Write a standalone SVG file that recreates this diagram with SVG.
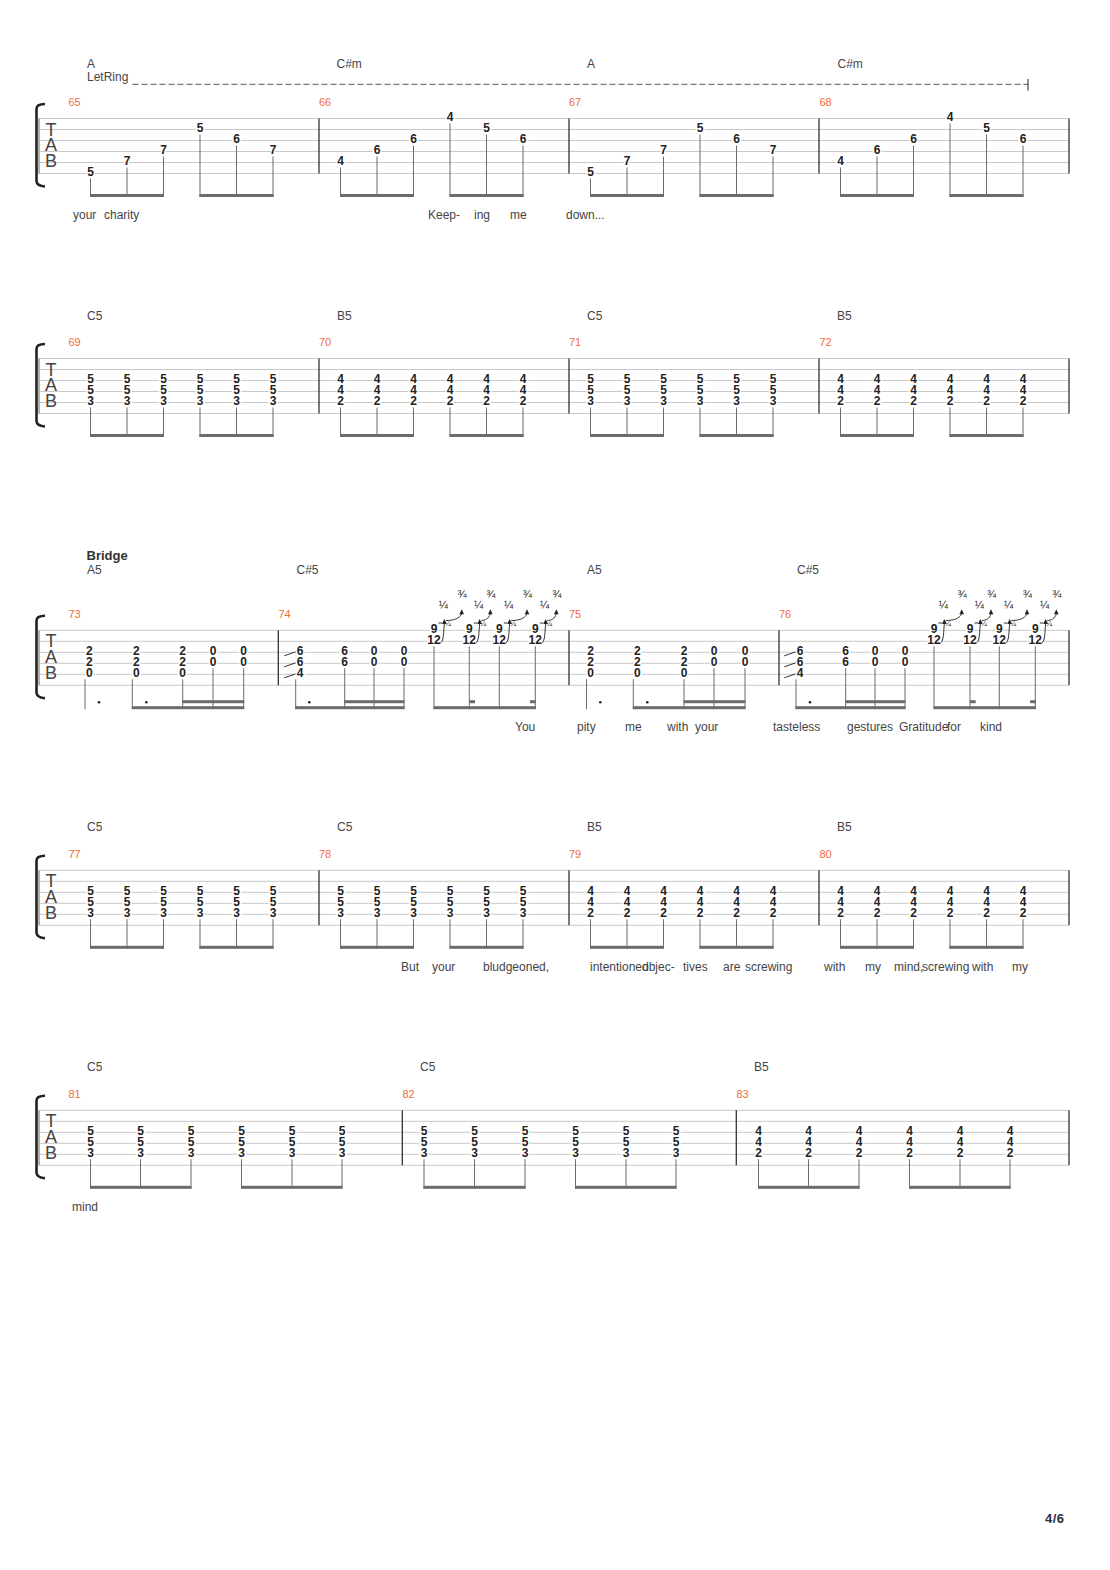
<svg xmlns="http://www.w3.org/2000/svg" width="1110" height="1570" viewBox="0 0 1110 1570">
<style>
text{font-family:"Liberation Sans",Arial,sans-serif}
.sl{stroke:#c8c8c8;stroke-width:1;fill:none}
.bl{stroke:#333;stroke-width:1.3;fill:none}
.lf{stroke:#666;stroke-width:1;fill:none}
.br{stroke:#222;stroke-width:2.6;fill:none}
.tab{font-size:18px;fill:#444;text-anchor:middle}
.n text,.n{font-size:12px;font-weight:bold;fill:#222;text-anchor:middle;stroke:#fff;stroke-width:3;paint-order:stroke;stroke-linejoin:round}
.st{stroke:#6b6b6b;stroke-width:1;fill:none}
.bm{fill:#6b6b6b}
.mn{font-size:11px;fill:#f26b3a}
.ch{font-size:12px;fill:#444}
.ly{font-size:12px;fill:#444}
.bd{stroke:#333;stroke-width:1;fill:none}
.tri{fill:#222}
.fr{font-size:11px;fill:#222;text-anchor:middle}
.fs{font-size:8px;fill:#222;text-anchor:middle}
.dot{fill:#222}
</style>

<!-- ROW 1 : measures 65-68 -->
<g id="row1">
  <g id="row1-staff">
    <path class="sl" d="M39,118.5H1069M39,129.5H1069M39,140.5H1069M39,151.5H1069M39,162.5H1069M39,173.5H1069"/>
    <path class="lf" d="M39,118.5V173.5"/>
    <path class="bl" d="M319,118.5V173.5M569,118.5V173.5M819,118.5V173.5M1069,118.5V173.5"/>
    <path class="br" d="M45,104 C40,104 36.5,105.5 36.5,109 V181 C36.5,184 40,186 45,186.5"/>
    <text class="tab" x="51" y="135.5">T</text><text class="tab" x="51" y="151">A</text><text class="tab" x="51" y="167">B</text>
  </g>
  <g id="row1-labels">
    <text class="ch" x="87" y="68">A</text>
    <text class="ch" x="87" y="80.5">LetRing</text>
    <path d="M132.5,84.3H1028" stroke="#777" stroke-width="1.3" stroke-dasharray="6,3" fill="none"/>
    <path d="M1028,79V90.5" stroke="#444" stroke-width="1.2"/>
    <text class="ch" x="336.5" y="68">C#m</text>
    <text class="ch" x="587" y="68">A</text>
    <text class="ch" x="837.5" y="68">C#m</text>
    <text class="mn" x="68.5" y="106">65</text>
    <text class="mn" x="319" y="106">66</text>
    <text class="mn" x="569" y="106">67</text>
    <text class="mn" x="819.5" y="106">68</text>
  </g>
  <g id="m65" class="n">
    <text x="90.5" y="176.3">5</text><text x="127" y="165.3">7</text><text x="163.5" y="154.3">7</text>
    <text x="200" y="132.3">5</text><text x="236.5" y="143.3">6</text><text x="273" y="154.3">7</text>
  </g>
  <g id="m66" class="n">
    <text x="340.5" y="165.3">4</text><text x="377" y="154.3">6</text><text x="413.5" y="143.3">6</text>
    <text x="450" y="121.3">4</text><text x="486.5" y="132.3">5</text><text x="523" y="143.3">6</text>
  </g>
  <g id="m67" class="n">
    <text x="590.5" y="176.3">5</text><text x="627" y="165.3">7</text><text x="663.5" y="154.3">7</text>
    <text x="700" y="132.3">5</text><text x="736.5" y="143.3">6</text><text x="773" y="154.3">7</text>
  </g>
  <g id="m68" class="n">
    <text x="840.5" y="165.3">4</text><text x="877" y="154.3">6</text><text x="913.5" y="143.3">6</text>
    <text x="950" y="121.3">4</text><text x="986.5" y="132.3">5</text><text x="1023" y="143.3">6</text>
  </g>
  <g id="row1-rhythm">
    <path class="st" d="M90.5,178.5V197M127,167.5V197M163.5,156.5V197M200,134.5V197M236.5,145.5V197M273,156.5V197"/>
    <path class="st" d="M340.5,167.5V197M377,156.5V197M413.5,145.5V197M450,123.5V197M486.5,134.5V197M523,145.5V197"/>
    <path class="st" d="M590.5,178.5V197M627,167.5V197M663.5,156.5V197M700,134.5V197M736.5,145.5V197M773,156.5V197"/>
    <path class="st" d="M840.5,167.5V197M877,156.5V197M913.5,145.5V197M950,123.5V197M986.5,134.5V197M1023,145.5V197"/>
    <rect class="bm" x="90" y="194" width="74" height="3"/><rect class="bm" x="199.5" y="194" width="74" height="3"/>
    <rect class="bm" x="340" y="194" width="74" height="3"/><rect class="bm" x="449.5" y="194" width="74" height="3"/>
    <rect class="bm" x="590" y="194" width="74" height="3"/><rect class="bm" x="699.5" y="194" width="74" height="3"/>
    <rect class="bm" x="840" y="194" width="74" height="3"/><rect class="bm" x="949.5" y="194" width="74" height="3"/>
  </g>
  <g id="row1-lyrics" class="ly">
    <text x="73" y="219">your</text><text x="104" y="219">charity</text>
    <text x="428" y="219">Keep-</text><text x="474" y="219">ing</text><text x="510" y="219">me</text>
    <text x="566" y="219">down...</text>
  </g>
</g>

<!-- ROW 2 : measures 69-72 -->
<g id="row2">
  <g id="row2-staff">
    <path class="sl" d="M39,358.5H1069M39,369.5H1069M39,380.5H1069M39,391.5H1069M39,402.5H1069M39,413.5H1069"/>
    <path class="lf" d="M39,358.5V413.5"/>
    <path class="bl" d="M319,358.5V413.5M569,358.5V413.5M819,358.5V413.5M1069,358.5V413.5"/>
    <path class="br" d="M45,344 C40,344 36.5,345.5 36.5,349 V421 C36.5,424 40,426 45,426.5"/>
    <text class="tab" x="51" y="375.5">T</text><text class="tab" x="51" y="391">A</text><text class="tab" x="51" y="407">B</text>
  </g>
  <g id="row2-labels">
    <text class="ch" x="87" y="319.5">C5</text>
    <text class="ch" x="337" y="319.5">B5</text>
    <text class="ch" x="587" y="319.5">C5</text>
    <text class="ch" x="837" y="319.5">B5</text>
    <text class="mn" x="68.5" y="346">69</text>
    <text class="mn" x="319" y="346">70</text>
    <text class="mn" x="569" y="346">71</text>
    <text class="mn" x="819.5" y="346">72</text>
  </g>
  <g id="m69" class="n">
    <text x="90.5" y="383.3">5</text><text x="90.5" y="394.3">5</text><text x="90.5" y="405.3">3</text>
    <text x="127" y="383.3">5</text><text x="127" y="394.3">5</text><text x="127" y="405.3">3</text>
    <text x="163.5" y="383.3">5</text><text x="163.5" y="394.3">5</text><text x="163.5" y="405.3">3</text>
    <text x="200" y="383.3">5</text><text x="200" y="394.3">5</text><text x="200" y="405.3">3</text>
    <text x="236.5" y="383.3">5</text><text x="236.5" y="394.3">5</text><text x="236.5" y="405.3">3</text>
    <text x="273" y="383.3">5</text><text x="273" y="394.3">5</text><text x="273" y="405.3">3</text>
  </g>
  <g id="m70" class="n">
    <text x="340.5" y="383.3">4</text><text x="340.5" y="394.3">4</text><text x="340.5" y="405.3">2</text>
    <text x="377" y="383.3">4</text><text x="377" y="394.3">4</text><text x="377" y="405.3">2</text>
    <text x="413.5" y="383.3">4</text><text x="413.5" y="394.3">4</text><text x="413.5" y="405.3">2</text>
    <text x="450" y="383.3">4</text><text x="450" y="394.3">4</text><text x="450" y="405.3">2</text>
    <text x="486.5" y="383.3">4</text><text x="486.5" y="394.3">4</text><text x="486.5" y="405.3">2</text>
    <text x="523" y="383.3">4</text><text x="523" y="394.3">4</text><text x="523" y="405.3">2</text>
  </g>
  <g id="m71" class="n">
    <text x="590.5" y="383.3">5</text><text x="590.5" y="394.3">5</text><text x="590.5" y="405.3">3</text>
    <text x="627" y="383.3">5</text><text x="627" y="394.3">5</text><text x="627" y="405.3">3</text>
    <text x="663.5" y="383.3">5</text><text x="663.5" y="394.3">5</text><text x="663.5" y="405.3">3</text>
    <text x="700" y="383.3">5</text><text x="700" y="394.3">5</text><text x="700" y="405.3">3</text>
    <text x="736.5" y="383.3">5</text><text x="736.5" y="394.3">5</text><text x="736.5" y="405.3">3</text>
    <text x="773" y="383.3">5</text><text x="773" y="394.3">5</text><text x="773" y="405.3">3</text>
  </g>
  <g id="m72" class="n">
    <text x="840.5" y="383.3">4</text><text x="840.5" y="394.3">4</text><text x="840.5" y="405.3">2</text>
    <text x="877" y="383.3">4</text><text x="877" y="394.3">4</text><text x="877" y="405.3">2</text>
    <text x="913.5" y="383.3">4</text><text x="913.5" y="394.3">4</text><text x="913.5" y="405.3">2</text>
    <text x="950" y="383.3">4</text><text x="950" y="394.3">4</text><text x="950" y="405.3">2</text>
    <text x="986.5" y="383.3">4</text><text x="986.5" y="394.3">4</text><text x="986.5" y="405.3">2</text>
    <text x="1023" y="383.3">4</text><text x="1023" y="394.3">4</text><text x="1023" y="405.3">2</text>
  </g>
  <g id="row2-rhythm">
    <path class="st" d="M90.5,407.5V437M127,407.5V437M163.5,407.5V437M200,407.5V437M236.5,407.5V437M273,407.5V437M340.5,407.5V437M377,407.5V437M413.5,407.5V437M450,407.5V437M486.5,407.5V437M523,407.5V437M590.5,407.5V437M627,407.5V437M663.5,407.5V437M700,407.5V437M736.5,407.5V437M773,407.5V437M840.5,407.5V437M877,407.5V437M913.5,407.5V437M950,407.5V437M986.5,407.5V437M1023,407.5V437"/>
    <rect class="bm" x="90" y="434" width="74" height="3"/><rect class="bm" x="199.5" y="434" width="74" height="3"/>
    <rect class="bm" x="340" y="434" width="74" height="3"/><rect class="bm" x="449.5" y="434" width="74" height="3"/>
    <rect class="bm" x="590" y="434" width="74" height="3"/><rect class="bm" x="699.5" y="434" width="74" height="3"/>
    <rect class="bm" x="840" y="434" width="74" height="3"/><rect class="bm" x="949.5" y="434" width="74" height="3"/>
  </g>
</g>

<!-- ROW 3 : measures 73-76 (Bridge) -->
<g id="row3">
  <g id="row3-staff">
    <path class="sl" d="M39,630.3H1069M39,641.3H1069M39,652.3H1069M39,663.3H1069M39,674.3H1069M39,685.3H1069"/>
    <path class="lf" d="M39,630.3V685.3"/>
    <path class="bl" d="M278.3,630.3V685.3M569,630.3V685.3M779,630.3V685.3M1069,630.3V685.3"/>
    <path class="br" d="M45,615.8 C40,615.8 36.5,617.3 36.5,620.8 V692.8 C36.5,695.8 40,697.8 45,698.3"/>
    <text class="tab" x="51" y="647.3">T</text><text class="tab" x="51" y="662.8">A</text><text class="tab" x="51" y="678.8">B</text>
  </g>
  <g id="row3-labels">
    <text x="86.5" y="559.5" font-size="13" font-weight="bold" fill="#333">Bridge</text>
    <text class="ch" x="87" y="574">A5</text>
    <text class="ch" x="296.5" y="574">C#5</text>
    <text class="ch" x="587" y="574">A5</text>
    <text class="ch" x="797" y="574">C#5</text>
    <text class="mn" x="68.5" y="617.8">73</text>
    <text class="mn" x="278.5" y="617.8">74</text>
    <text class="mn" x="569" y="617.8">75</text>
    <text class="mn" x="779" y="617.8">76</text>
  </g>
  <g id="m73" class="n">
    <text x="89.3" y="655.1">2</text><text x="89.3" y="666.1">2</text><text x="89.3" y="677.1">0</text>
    <text x="136.3" y="655.1">2</text><text x="136.3" y="666.1">2</text><text x="136.3" y="677.1">0</text>
    <text x="182.7" y="655.1">2</text><text x="182.7" y="666.1">2</text><text x="182.7" y="677.1">0</text>
    <text x="213" y="655.1">0</text><text x="213" y="666.1">0</text>
    <text x="243.7" y="655.1">0</text><text x="243.7" y="666.1">0</text>
  </g>
  <g id="m74">
    <path class="bd" d="M284.3,655.8L295.8,651.8M284.3,666.8L295.8,662.8M284.3,677.8L295.8,673.8"/>
    <g class="n">
      <text x="300" y="655.1">6</text><text x="300" y="666.1">6</text><text x="300" y="677.1">4</text>
      <text x="344.7" y="655.1">6</text><text x="344.7" y="666.1">6</text>
      <text x="374" y="655.1">0</text><text x="374" y="666.1">0</text>
      <text x="404" y="655.1">0</text><text x="404" y="666.1">0</text>
      <text x="434" y="633.1">9</text><text x="434" y="644.1">12</text>
      <text x="469.3" y="633.1">9</text><text x="469.3" y="644.1">12</text>
      <text x="499.3" y="633.1">9</text><text x="499.3" y="644.1">12</text>
      <text x="535.3" y="633.1">9</text><text x="535.3" y="644.1">12</text>
    </g>
    <g id="bends74">
      <path class="bd" d="M438.5,623h3.5M440.5,643C444,641 443.5,631 444.3,624M446,620.5C453,620.5 459,619 461.7,614"/>
      <polygon class="tri" points="444.3,619 446.5,624 442,624"/><polygon class="tri" points="461.7,609.3 464,614.3 459.4,614.3"/>
      <text class="fs" x="447.5" y="625.5">¼</text><text class="fr" x="443.3" y="609">¼</text><text class="fr" x="462" y="597.5">¾</text>

      <path class="bd" d="M473.8,623h3.5M475.8,643C479.3,641 478.8,631 479.6,624M481.3,620.5C485.3,620.5 488.8,618.5 490.3,614"/>
      <polygon class="tri" points="479.6,619 481.8,624 477.3,624"/><polygon class="tri" points="490.3,609.3 492.6,614.3 488,614.3"/>
      <text class="fs" x="482.8" y="625.5">¼</text><text class="fr" x="478.6" y="609">¼</text><text class="fr" x="490.8" y="597.5">¾</text>

      <path class="bd" d="M503.8,623h3.5M505.8,643C509.3,641 508.8,631 509.6,624M511.3,620.5C518.3,620.5 524.3,619 527,614"/>
      <polygon class="tri" points="509.6,619 511.8,624 507.3,624"/><polygon class="tri" points="527,609.3 529.3,614.3 524.7,614.3"/>
      <text class="fs" x="512.8" y="625.5">¼</text><text class="fr" x="508.6" y="609">¼</text><text class="fr" x="527.3" y="597.5">¾</text>

      <path class="bd" d="M539.8,623h3.5M541.8,643C545.3,641 544.8,631 545.6,624M547.3,620.5C551.3,620.5 554.8,618.5 556.3,614"/>
      <polygon class="tri" points="545.6,619 547.8,624 543.3,624"/><polygon class="tri" points="556.3,609.3 558.6,614.3 554,614.3"/>
      <text class="fs" x="548.8" y="625.5">¼</text><text class="fr" x="544.6" y="609">¼</text><text class="fr" x="556.8" y="597.5">¾</text>
    </g>
  </g>
  <g id="m75" class="n">
    <text x="590.7" y="655.1">2</text><text x="590.7" y="666.1">2</text><text x="590.7" y="677.1">0</text>
    <text x="637.3" y="655.1">2</text><text x="637.3" y="666.1">2</text><text x="637.3" y="677.1">0</text>
    <text x="684" y="655.1">2</text><text x="684" y="666.1">2</text><text x="684" y="677.1">0</text>
    <text x="714" y="655.1">0</text><text x="714" y="666.1">0</text>
    <text x="745" y="655.1">0</text><text x="745" y="666.1">0</text>
  </g>
  <g id="m76">
    <path class="bd" d="M784.3,655.8L795.8,651.8M784.3,666.8L795.8,662.8M784.3,677.8L795.8,673.8"/>
    <g class="n">
      <text x="800" y="655.1">6</text><text x="800" y="666.1">6</text><text x="800" y="677.1">4</text>
      <text x="845.7" y="655.1">6</text><text x="845.7" y="666.1">6</text>
      <text x="875" y="655.1">0</text><text x="875" y="666.1">0</text>
      <text x="905" y="655.1">0</text><text x="905" y="666.1">0</text>
      <text x="934" y="633.1">9</text><text x="934" y="644.1">12</text>
      <text x="970" y="633.1">9</text><text x="970" y="644.1">12</text>
      <text x="999.3" y="633.1">9</text><text x="999.3" y="644.1">12</text>
      <text x="1035.3" y="633.1">9</text><text x="1035.3" y="644.1">12</text>
    </g>
    <g id="bends76">
      <path class="bd" d="M938.5,623h3.5M940.5,643C944,641 943.5,631 944.3,624M946,620.5C953,620.5 959,619 961.7,614"/>
      <polygon class="tri" points="944.3,619 946.5,624 942,624"/><polygon class="tri" points="961.7,609.3 964,614.3 959.4,614.3"/>
      <text class="fs" x="947.5" y="625.5">¼</text><text class="fr" x="943.3" y="609">¼</text><text class="fr" x="962" y="597.5">¾</text>

      <path class="bd" d="M974.5,623h3.5M976.5,643C980,641 979.5,631 980.3,624M982,620.5C986,620.5 989.5,618.5 991,614"/>
      <polygon class="tri" points="980.3,619 982.5,624 978,624"/><polygon class="tri" points="991,609.3 993.3,614.3 988.7,614.3"/>
      <text class="fs" x="983.5" y="625.5">¼</text><text class="fr" x="979.3" y="609">¼</text><text class="fr" x="991.5" y="597.5">¾</text>

      <path class="bd" d="M1003.8,623h3.5M1005.8,643C1009.3,641 1008.8,631 1009.6,624M1011.3,620.5C1018.3,620.5 1024.3,619 1027,614"/>
      <polygon class="tri" points="1009.6,619 1011.8,624 1007.3,624"/><polygon class="tri" points="1027,609.3 1029.3,614.3 1024.7,614.3"/>
      <text class="fs" x="1012.8" y="625.5">¼</text><text class="fr" x="1008.6" y="609">¼</text><text class="fr" x="1027.3" y="597.5">¾</text>

      <path class="bd" d="M1039.8,623h3.5M1041.8,643C1045.3,641 1044.8,631 1045.6,624M1047.3,620.5C1051.3,620.5 1054.8,618.5 1056.3,614"/>
      <polygon class="tri" points="1045.6,619 1047.8,624 1043.3,624"/><polygon class="tri" points="1056.3,609.3 1058.6,614.3 1054,614.3"/>
      <text class="fs" x="1048.8" y="625.5">¼</text><text class="fr" x="1044.6" y="609">¼</text><text class="fr" x="1056.8" y="597.5">¾</text>
    </g>
  </g>
  <g id="row3-rhythm">
    <path class="st" d="M85,679.3V709.2M132.3,679.3V709.2M182.7,679.3V709.2M213,668.3V709.2M243.7,668.3V709.2"/>
    <path class="st" d="M295.7,679.3V709.2M344.7,668.3V709.2M374,668.3V709.2M404,668.3V709.2M434,646.3V709.2M469.3,646.3V709.2M499.3,646.3V709.2M535.3,646.3V709.2"/>
    <path class="st" d="M586.5,679.3V709.2M633.3,679.3V709.2M684,679.3V709.2M714,668.3V709.2M745,668.3V709.2"/>
    <path class="st" d="M796,679.3V709.2M845.7,668.3V709.2M875,668.3V709.2M905,668.3V709.2M934,646.3V709.2M970,646.3V709.2M999.3,646.3V709.2M1035.3,646.3V709.2"/>
    <rect class="bm" x="131.8" y="706.2" width="112.4" height="3"/><rect class="bm" x="182.2" y="700.2" width="62" height="3"/>
    <rect class="bm" x="295.2" y="706.2" width="109.3" height="3"/><rect class="bm" x="344.2" y="700.2" width="60.3" height="3"/>
    <rect class="bm" x="433.5" y="706.2" width="102.3" height="3"/><rect class="bm" x="469.3" y="700.2" width="5.7" height="3"/><rect class="bm" x="530.1" y="700.2" width="5.7" height="3"/>
    <rect class="bm" x="632.8" y="706.2" width="112.7" height="3"/><rect class="bm" x="683.5" y="700.2" width="62" height="3"/>
    <rect class="bm" x="795.5" y="706.2" width="110" height="3"/><rect class="bm" x="845.2" y="700.2" width="60.3" height="3"/>
    <rect class="bm" x="933.5" y="706.2" width="102.3" height="3"/><rect class="bm" x="970" y="700.2" width="5.7" height="3"/><rect class="bm" x="1030.1" y="700.2" width="5.7" height="3"/>
    <circle class="dot" cx="99" cy="702.3" r="1.3"/><circle class="dot" cx="146.3" cy="702.3" r="1.3"/>
    <circle class="dot" cx="309.3" cy="702.3" r="1.3"/>
    <circle class="dot" cx="600.3" cy="702.3" r="1.3"/><circle class="dot" cx="647.3" cy="702.3" r="1.3"/>
    <circle class="dot" cx="810" cy="702.3" r="1.3"/>
  </g>
  <g id="row3-lyrics" class="ly">
    <text x="515" y="731">You</text>
    <text x="577" y="731">pity</text>
    <text x="625" y="731">me</text>
    <text x="667" y="731">with</text><text x="695" y="731">your</text>
    <text x="773" y="731">tasteless</text>
    <text x="847" y="731">gestures</text>
    <text x="899" y="731">Gratitude</text>
    <text x="947" y="731">for</text>
    <text x="980" y="731">kind</text>
  </g>
</g>

<!-- ROW 4 : measures 77-80 -->
<g id="row4">
  <g id="row4-staff">
    <path class="sl" d="M39,870.3H1069M39,881.3H1069M39,892.3H1069M39,903.3H1069M39,914.3H1069M39,925.3H1069"/>
    <path class="lf" d="M39,870.3V925.3"/>
    <path class="bl" d="M319,870.3V925.3M569,870.3V925.3M819,870.3V925.3M1069,870.3V925.3"/>
    <path class="br" d="M45,855.8 C40,855.8 36.5,857.3 36.5,860.8 V932.8 C36.5,935.8 40,937.8 45,938.3"/>
    <text class="tab" x="51" y="887.3">T</text><text class="tab" x="51" y="902.8">A</text><text class="tab" x="51" y="918.8">B</text>
  </g>
  <g id="row4-labels">
    <text class="ch" x="87" y="830.5">C5</text>
    <text class="ch" x="337" y="830.5">C5</text>
    <text class="ch" x="587" y="830.5">B5</text>
    <text class="ch" x="837" y="830.5">B5</text>
    <text class="mn" x="68.5" y="857.8">77</text>
    <text class="mn" x="319" y="857.8">78</text>
    <text class="mn" x="569" y="857.8">79</text>
    <text class="mn" x="819.5" y="857.8">80</text>
  </g>
  <g id="m77" class="n">
    <text x="90.5" y="895.1">5</text><text x="90.5" y="906.1">5</text><text x="90.5" y="917.1">3</text>
    <text x="127" y="895.1">5</text><text x="127" y="906.1">5</text><text x="127" y="917.1">3</text>
    <text x="163.5" y="895.1">5</text><text x="163.5" y="906.1">5</text><text x="163.5" y="917.1">3</text>
    <text x="200" y="895.1">5</text><text x="200" y="906.1">5</text><text x="200" y="917.1">3</text>
    <text x="236.5" y="895.1">5</text><text x="236.5" y="906.1">5</text><text x="236.5" y="917.1">3</text>
    <text x="273" y="895.1">5</text><text x="273" y="906.1">5</text><text x="273" y="917.1">3</text>
  </g>
  <g id="m78" class="n">
    <text x="340.5" y="895.1">5</text><text x="340.5" y="906.1">5</text><text x="340.5" y="917.1">3</text>
    <text x="377" y="895.1">5</text><text x="377" y="906.1">5</text><text x="377" y="917.1">3</text>
    <text x="413.5" y="895.1">5</text><text x="413.5" y="906.1">5</text><text x="413.5" y="917.1">3</text>
    <text x="450" y="895.1">5</text><text x="450" y="906.1">5</text><text x="450" y="917.1">3</text>
    <text x="486.5" y="895.1">5</text><text x="486.5" y="906.1">5</text><text x="486.5" y="917.1">3</text>
    <text x="523" y="895.1">5</text><text x="523" y="906.1">5</text><text x="523" y="917.1">3</text>
  </g>
  <g id="m79" class="n">
    <text x="590.5" y="895.1">4</text><text x="590.5" y="906.1">4</text><text x="590.5" y="917.1">2</text>
    <text x="627" y="895.1">4</text><text x="627" y="906.1">4</text><text x="627" y="917.1">2</text>
    <text x="663.5" y="895.1">4</text><text x="663.5" y="906.1">4</text><text x="663.5" y="917.1">2</text>
    <text x="700" y="895.1">4</text><text x="700" y="906.1">4</text><text x="700" y="917.1">2</text>
    <text x="736.5" y="895.1">4</text><text x="736.5" y="906.1">4</text><text x="736.5" y="917.1">2</text>
    <text x="773" y="895.1">4</text><text x="773" y="906.1">4</text><text x="773" y="917.1">2</text>
  </g>
  <g id="m80" class="n">
    <text x="840.5" y="895.1">4</text><text x="840.5" y="906.1">4</text><text x="840.5" y="917.1">2</text>
    <text x="877" y="895.1">4</text><text x="877" y="906.1">4</text><text x="877" y="917.1">2</text>
    <text x="913.5" y="895.1">4</text><text x="913.5" y="906.1">4</text><text x="913.5" y="917.1">2</text>
    <text x="950" y="895.1">4</text><text x="950" y="906.1">4</text><text x="950" y="917.1">2</text>
    <text x="986.5" y="895.1">4</text><text x="986.5" y="906.1">4</text><text x="986.5" y="917.1">2</text>
    <text x="1023" y="895.1">4</text><text x="1023" y="906.1">4</text><text x="1023" y="917.1">2</text>
  </g>
  <g id="row4-rhythm">
    <path class="st" d="M90.5,919.3V948.8M127,919.3V948.8M163.5,919.3V948.8M200,919.3V948.8M236.5,919.3V948.8M273,919.3V948.8M340.5,919.3V948.8M377,919.3V948.8M413.5,919.3V948.8M450,919.3V948.8M486.5,919.3V948.8M523,919.3V948.8M590.5,919.3V948.8M627,919.3V948.8M663.5,919.3V948.8M700,919.3V948.8M736.5,919.3V948.8M773,919.3V948.8M840.5,919.3V948.8M877,919.3V948.8M913.5,919.3V948.8M950,919.3V948.8M986.5,919.3V948.8M1023,919.3V948.8"/>
    <rect class="bm" x="90" y="945.8" width="74" height="3"/><rect class="bm" x="199.5" y="945.8" width="74" height="3"/>
    <rect class="bm" x="340" y="945.8" width="74" height="3"/><rect class="bm" x="449.5" y="945.8" width="74" height="3"/>
    <rect class="bm" x="590" y="945.8" width="74" height="3"/><rect class="bm" x="699.5" y="945.8" width="74" height="3"/>
    <rect class="bm" x="840" y="945.8" width="74" height="3"/><rect class="bm" x="949.5" y="945.8" width="74" height="3"/>
  </g>
  <g id="row4-lyrics" class="ly">
    <text x="401" y="971">But</text>
    <text x="432" y="971">your</text>
    <text x="483" y="971">bludgeoned,</text>
    <text x="590" y="971">intentioned</text>
    <text x="642" y="971">objec-</text>
    <text x="683" y="971">tives</text>
    <text x="723" y="971">are</text>
    <text x="745" y="971">screwing</text>
    <text x="824" y="971">with</text>
    <text x="865" y="971">my</text>
    <text x="894" y="971">mind,</text>
    <text x="922" y="971">screwing</text>
    <text x="972" y="971">with</text>
    <text x="1012" y="971">my</text>
  </g>
</g>

<!-- ROW 5 : measures 81-83 -->
<g id="row5">
  <g id="row5-staff">
    <path class="sl" d="M39,1110.3H1069M39,1121.3H1069M39,1132.3H1069M39,1143.3H1069M39,1154.3H1069M39,1165.3H1069"/>
    <path class="lf" d="M39,1110.3V1165.3"/>
    <path class="bl" d="M402.3,1110.3V1165.3M736.3,1110.3V1165.3M1069,1110.3V1165.3"/>
    <path class="br" d="M45,1095.8 C40,1095.8 36.5,1097.3 36.5,1100.8 V1172.8 C36.5,1175.8 40,1177.8 45,1178.3"/>
    <text class="tab" x="51" y="1127.3">T</text><text class="tab" x="51" y="1142.8">A</text><text class="tab" x="51" y="1158.8">B</text>
  </g>
  <g id="row5-labels">
    <text class="ch" x="87" y="1070.5">C5</text>
    <text class="ch" x="420" y="1070.5">C5</text>
    <text class="ch" x="754" y="1070.5">B5</text>
    <text class="mn" x="68.5" y="1097.8">81</text>
    <text class="mn" x="402.5" y="1097.8">82</text>
    <text class="mn" x="736.5" y="1097.8">83</text>
  </g>
  <g id="m81" class="n">
    <text x="90.5" y="1135.1">5</text><text x="90.5" y="1146.1">5</text><text x="90.5" y="1157.1">3</text>
    <text x="140.5" y="1135.1">5</text><text x="140.5" y="1146.1">5</text><text x="140.5" y="1157.1">3</text>
    <text x="191" y="1135.1">5</text><text x="191" y="1146.1">5</text><text x="191" y="1157.1">3</text>
    <text x="241.5" y="1135.1">5</text><text x="241.5" y="1146.1">5</text><text x="241.5" y="1157.1">3</text>
    <text x="292" y="1135.1">5</text><text x="292" y="1146.1">5</text><text x="292" y="1157.1">3</text>
    <text x="342" y="1135.1">5</text><text x="342" y="1146.1">5</text><text x="342" y="1157.1">3</text>
  </g>
  <g id="m82" class="n">
    <text x="424" y="1135.1">5</text><text x="424" y="1146.1">5</text><text x="424" y="1157.1">3</text>
    <text x="474.5" y="1135.1">5</text><text x="474.5" y="1146.1">5</text><text x="474.5" y="1157.1">3</text>
    <text x="525" y="1135.1">5</text><text x="525" y="1146.1">5</text><text x="525" y="1157.1">3</text>
    <text x="575.5" y="1135.1">5</text><text x="575.5" y="1146.1">5</text><text x="575.5" y="1157.1">3</text>
    <text x="626" y="1135.1">5</text><text x="626" y="1146.1">5</text><text x="626" y="1157.1">3</text>
    <text x="676" y="1135.1">5</text><text x="676" y="1146.1">5</text><text x="676" y="1157.1">3</text>
  </g>
  <g id="m83" class="n">
    <text x="758.5" y="1135.1">4</text><text x="758.5" y="1146.1">4</text><text x="758.5" y="1157.1">2</text>
    <text x="808.5" y="1135.1">4</text><text x="808.5" y="1146.1">4</text><text x="808.5" y="1157.1">2</text>
    <text x="859" y="1135.1">4</text><text x="859" y="1146.1">4</text><text x="859" y="1157.1">2</text>
    <text x="909.5" y="1135.1">4</text><text x="909.5" y="1146.1">4</text><text x="909.5" y="1157.1">2</text>
    <text x="960" y="1135.1">4</text><text x="960" y="1146.1">4</text><text x="960" y="1157.1">2</text>
    <text x="1010" y="1135.1">4</text><text x="1010" y="1146.1">4</text><text x="1010" y="1157.1">2</text>
  </g>
  <g id="row5-rhythm">
    <path class="st" d="M90.5,1159.3V1188.8M140.5,1159.3V1188.8M191,1159.3V1188.8M241.5,1159.3V1188.8M292,1159.3V1188.8M342,1159.3V1188.8M424,1159.3V1188.8M474.5,1159.3V1188.8M525,1159.3V1188.8M575.5,1159.3V1188.8M626,1159.3V1188.8M676,1159.3V1188.8M758.5,1159.3V1188.8M808.5,1159.3V1188.8M859,1159.3V1188.8M909.5,1159.3V1188.8M960,1159.3V1188.8M1010,1159.3V1188.8"/>
    <rect class="bm" x="90" y="1185.8" width="101.5" height="3"/><rect class="bm" x="241" y="1185.8" width="101.5" height="3"/>
    <rect class="bm" x="423.5" y="1185.8" width="102" height="3"/><rect class="bm" x="575" y="1185.8" width="101.5" height="3"/>
    <rect class="bm" x="758" y="1185.8" width="101.5" height="3"/><rect class="bm" x="909" y="1185.8" width="101.5" height="3"/>
  </g>
  <g id="row5-lyrics" class="ly">
    <text x="72" y="1210.8">mind</text>
  </g>
</g>

<text x="1045" y="1523" font-size="13" font-weight="bold" fill="#2a3040" letter-spacing="0.5">4/6</text>
</svg>
